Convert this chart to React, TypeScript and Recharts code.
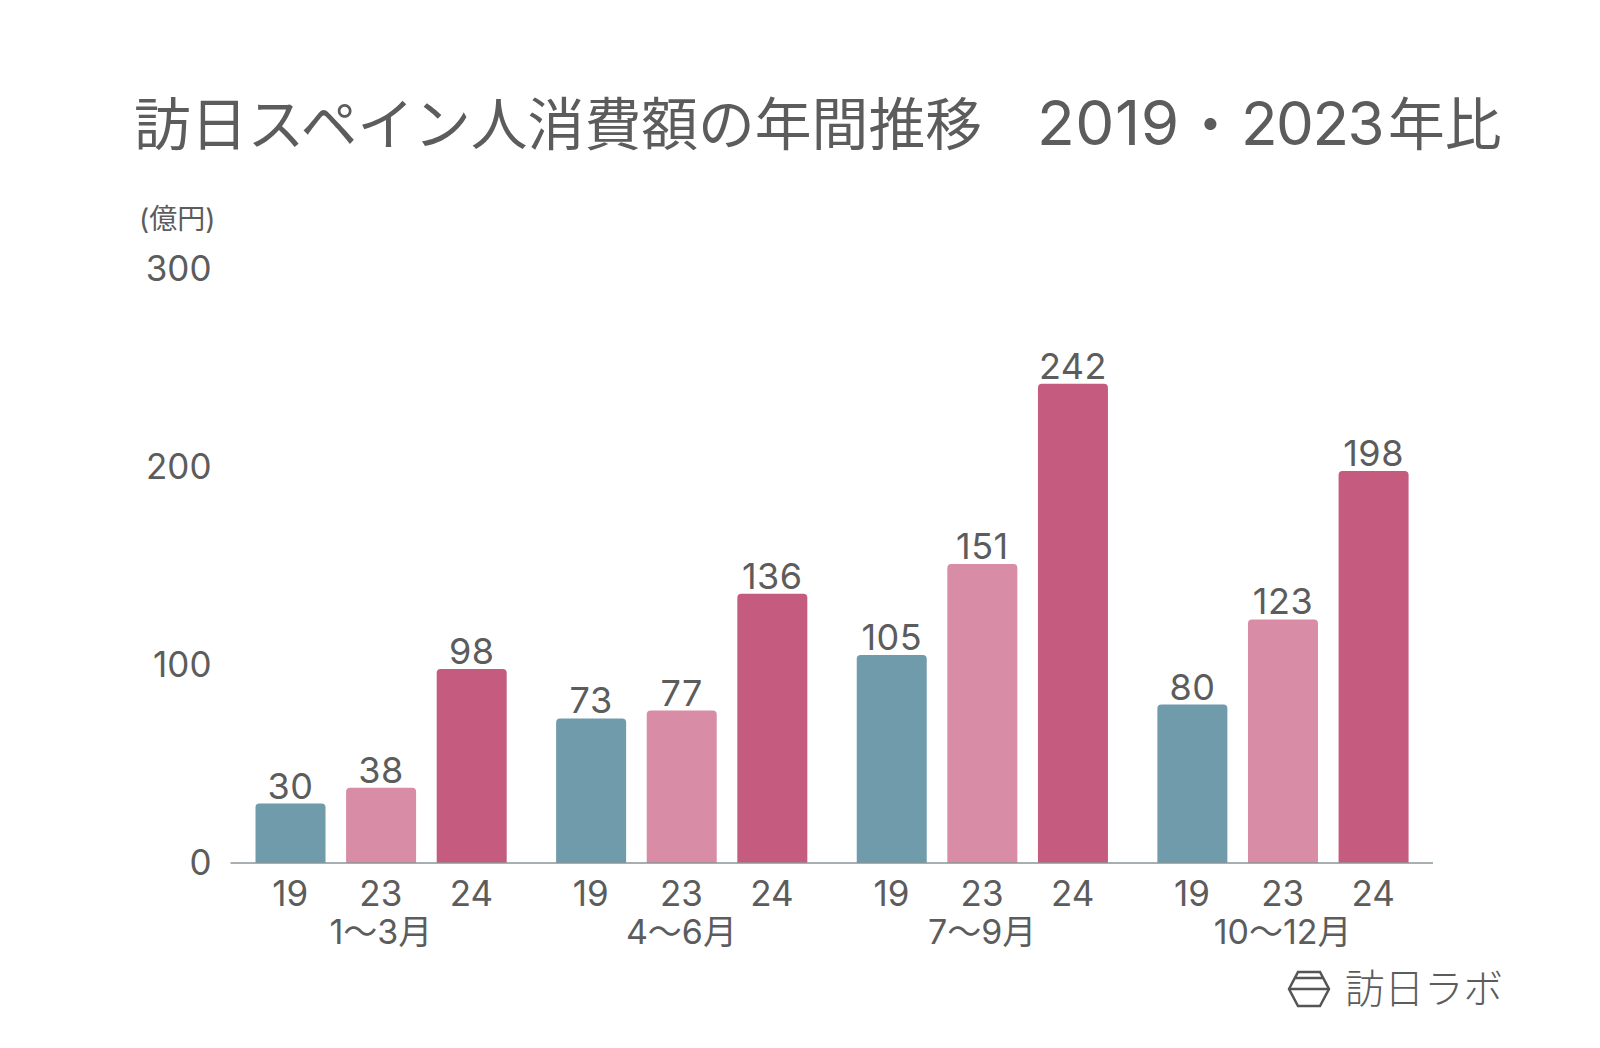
import { Bar, BarChart, LabelList, XAxis, YAxis } from "recharts";

const quarters = ["1〜3月", "4〜6月", "7〜9月", "10〜12月"];
const values2019 = [30, 73, 105, 80];
const values2023 = [38, 77, 151, 123];
const values2024 = [98, 136, 242, 198];
const yearLabels = ["19", "23", "24"];
const yTicks = [0, 100, 200, 300];

const chartData = quarters.map((quarter, i) => ({
  quarter,
  y2019: values2019[i],
  y2023: values2023[i],
  y2024: values2024[i],
}));

const FONT = 'Inter, "Noto Sans CJK JP", sans-serif';
const TEXT = "#5c5c5c";

const QuarterTick = ({ x, y, payload }: any) => (
  <g fontFamily={FONT} fill={TEXT}>
    {yearLabels.map((label, i) => (
      <text key={label} x={x + (i - 1) * 90.6} y={y + 35} fontSize={35} textAnchor="middle">
        {label}
      </text>
    ))}
    <text x={x} y={y + 73} fontSize={34} textAnchor="middle">
      {payload.value}
    </text>
  </g>
);

const labelStyle = { fontFamily: FONT, fontSize: 36, fill: TEXT, letterSpacing: 0.5 };

export default function App() {
  return (
    <div style={{ position: "absolute", left: 0, top: 0, width: 1600, height: 1048, background: "#fff" }}>
      <BarChart
        width={1600}
        height={1048}
        data={chartData}
        margin={{ top: 269, right: 167, bottom: 85, left: 150.5 }}
        barSize={70}
        barGap={20.6}
        barCategoryGap={0}
      >
        <XAxis
          dataKey="quarter"
          axisLine={{ stroke: "#8b9499", strokeWidth: 1.5 }}
          tickLine={false}
          tick={<QuarterTick />}
          height={100}
          interval={0}
        />
        <YAxis
          domain={[0, 300]}
          ticks={yTicks}
          width={80}
          axisLine={false}
          tickLine={false}
          tickMargin={13}
          tick={{ fontFamily: FONT, fontSize: 35, fill: TEXT }}
        />
        <Bar dataKey="y2019" fill="#6f9bab" radius={[4, 4, 0, 0]} isAnimationActive={false}>
          <LabelList dataKey="y2019" position="top" offset={5} style={labelStyle} />
        </Bar>
        <Bar dataKey="y2023" fill="#d88ca5" radius={[4, 4, 0, 0]} isAnimationActive={false}>
          <LabelList dataKey="y2023" position="top" offset={5} style={labelStyle} />
        </Bar>
        <Bar dataKey="y2024" fill="#c55b7e" radius={[4, 4, 0, 0]} isAnimationActive={false}>
          <LabelList dataKey="y2024" position="top" offset={5} style={labelStyle} />
        </Bar>

        <text y={145} fontFamily={FONT} fill={TEXT} fontSize={56.8}>
          <tspan x={134}>訪日スペイン人消費額の年間推移</tspan>
          <tspan x={1037} fontSize={62} letterSpacing={0.5}>2019</tspan>
          <tspan x={1182}>・</tspan>
          <tspan x={1241} fontSize={60} letterSpacing={-1.5}>2023</tspan>
          <tspan x={1388}>年比</tspan>
        </text>
        <text x={139} y={229} fontFamily={FONT} fontSize={28} fill={TEXT}>
          (億円)
        </text>

        <g fill="none" stroke="#555" strokeWidth={2.5}>
          <polygon points="1289,989 1298,972 1320,972 1329,989 1320,1006 1298,1006" />
          <line x1={1289} y1={989} x2={1329} y2={989} />
          <line x1={1295} y1={978} x2={1323} y2={978} />
        </g>
        <text x={1345} y={1003} fontFamily='"Noto Sans CJK JP"' fontWeight={300} fontSize={39.5} fill={TEXT}>
          訪日ラボ
        </text>
      </BarChart>
    </div>
  );
}
